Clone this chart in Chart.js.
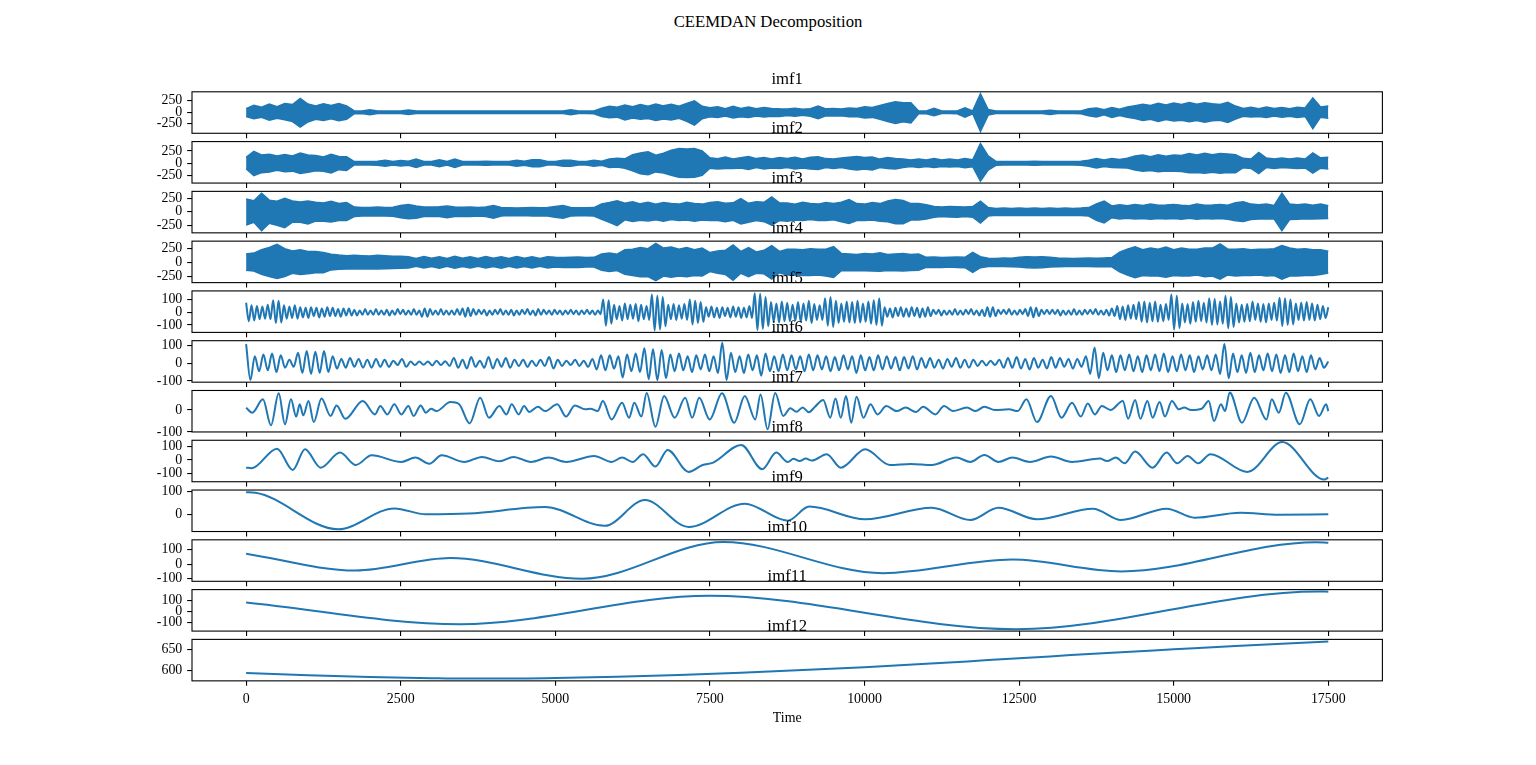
<!DOCTYPE html>
<html>
<head>
<meta charset="utf-8">
<title>CEEMDAN Decomposition</title>
<script src="https://cdn.jsdelivr.net/npm/chart.js@4.4.1/dist/chart.umd.min.js"></script>
<style>
  html, body { margin: 0; padding: 0; background: #fff; }
  #fig { position: relative; width: 1536px; height: 765px; overflow: hidden; background: #fff; }
  #fig canvas { position: absolute; left: 0; }
  #suptitle {
    position: absolute; left: 0; top: 14px; width: 1536px; text-align: center;
    font-family: "Liberation Serif", "Times New Roman", serif; font-size: 16.7px; line-height: 1; color: #000;
  }
</style>
</head>
<body>
<div id="fig">
  <div id="suptitle">CEEMDAN Decomposition</div>
</div>
<script>
// ---- data ----
const xTicks = [0, 2500, 5000, 7500, 10000, 12500, 15000, 17500];

// imf1..imf4 are too dense to resolve: upper / lower envelope, one value every 125 samples
const bandStep = 125;
const imf1Hi = [80, 150, 110, 180, 120, 190, 170, 300, 180, 140, 185, 150, 190, 140,
  30, 28, 55, 28, 28, 28, 28, 50,
  28, 26, 28, 27, 28, 26, 28, 27, 28, 26, 28, 27, 28, 26, 28, 27, 28, 26, 28, 27,
  55, 28, 28, 30,
  90, 130, 110, 160, 120, 170, 130, 180, 140, 175, 130, 190, 250, 130, 100, 120, 80, 130, 85, 115, 75, 105, 85, 75,
  70, 90, 65, 80, 135, 75, 85, 70, 95, 85, 120, 105, 150, 190,
  230, 210, 210, 30, 30, 85, 28, 28, 30, 100, 30, 404, 60,
  28, 27, 28, 26, 28, 27, 28, 45, 28, 27, 28,
  30, 80, 95, 55, 105, 65, 115, 145, 175, 150, 195, 160, 200, 170, 215, 175, 205, 185, 170, 215,
  135, 85, 110, 80, 115, 85, 105, 80, 110, 95, 310, 115, 135];
const imf1Lo = [-90, -140, -110, -170, -130, -160, -200, -320, -210, -150, -175, -140, -185, -150,
  -30, -28, -55, -28, -27, -28, -28, -50,
  -27, -28, -26, -28, -27, -28, -26, -28, -27, -28, -26, -28, -27, -28, -26, -28, -27, -28, -26, -28,
  -55, -28, -27, -30,
  -90, -120, -105, -165, -125, -150, -135, -175, -145, -165, -130, -195, -280, -140, -95, -110, -80, -125, -95, -110, -80, -100, -85, -90,
  -70, -85, -65, -85, -140, -75, -80, -75, -95, -90, -125, -110, -150, -200,
  -240, -205, -230, -30, -30, -75, -28, -28, -30, -105, -30, -414, -60,
  -28, -27, -28, -26, -28, -27, -28, -45, -28, -27, -28,
  -30, -75, -100, -55, -110, -70, -105, -135, -180, -150, -200, -155, -190, -175, -205, -180, -215, -185, -175, -220,
  -145, -85, -100, -90, -110, -80, -105, -85, -110, -90, -355, -105, -130];

const imf2Hi = [120, 240, 170, 185, 150, 180, 150, 210, 170, 160, 130, 185, 140, 135,
  35, 35, 35, 40, 60, 35, 55, 40, 85, 35, 35, 70, 35, 85, 35, 35, 35, 40, 35, 35, 35, 60, 40, 70, 70, 35, 35, 60, 60, 35, 35, 60, 40,
  85, 100, 90, 175, 210, 235, 165, 205, 265, 300, 290, 300, 250,
  110, 90, 125, 85, 115, 135, 95, 115, 85, 115, 95, 120, 85, 125, 135, 95, 85, 105, 125, 140, 120, 130, 85, 115, 95, 85, 65, 85, 65, 95, 65, 85, 65, 95, 70,
  400, 150,
  40, 35, 35, 35, 35, 40, 35, 35, 35, 35, 35, 40,
  60, 95, 65, 95, 75, 105, 150, 170, 135, 175, 145, 170, 160, 200, 170, 205, 175, 200, 190, 175, 100, 85, 220, 105, 85, 105, 85, 105, 85, 210, 110, 125];
const imf2Lo = [-110, -250, -190, -175, -140, -170, -160, -205, -180, -150, -160, -195, -130, -145,
  -35, -34, -36, -40, -60, -35, -55, -40, -85, -35, -34, -70, -35, -85, -35, -34, -36, -40, -35, -34, -36, -60, -40, -70, -70, -35, -34, -60, -60, -35, -34, -60, -40,
  -85, -75, -100, -155, -215, -235, -175, -200, -245, -285, -290, -285, -245,
  -100, -115, -105, -105, -95, -125, -85, -115, -95, -105, -85, -115, -95, -115, -125, -85, -105, -85, -115, -135, -115, -135, -85, -105, -115, -85, -65, -85, -65, -85, -65, -75, -65, -90, -70,
  -360, -140,
  -40, -35, -34, -36, -35, -40, -35, -34, -36, -35, -35, -40,
  -60, -95, -65, -85, -90, -95, -135, -160, -145, -170, -155, -160, -165, -190, -185, -200, -180, -205, -185, -190, -90, -105, -210, -85, -105, -85, -95, -105, -95, -200, -100, -115];

const imf3Hi = [240, 210, 350, 220, 200, 255, 205, 185, 205, 180, 165, 200, 155, 175,
  90, 80, 80, 90, 80, 85, 120, 140, 110, 90, 90, 95, 110, 90, 85, 90, 80, 90, 120, 80, 75, 70, 75, 80, 75, 80, 100, 120, 80, 75, 75, 80,
  150, 175, 210, 160, 190, 150, 180, 145, 175, 155, 145, 180, 155, 145, 175, 190, 160, 170, 250, 160, 190, 180, 280, 170, 165, 145, 180, 155, 145, 175, 155, 180, 230, 155, 145, 175, 155, 205, 230, 215, 155, 155, 135,
  100, 90, 100, 95, 90, 100, 200, 80,
  65, 70, 65, 70, 65, 70, 65, 70, 65, 70, 65, 70, 80, 150, 200, 110,
  135, 115, 140, 120, 145, 125, 130, 140, 125, 115, 145, 125, 130, 140, 125, 170, 190, 145, 135, 145, 120, 350, 145, 135, 145, 125, 145, 115];
const imf3Lo = [-250, -195, -355, -215, -255, -300, -195, -195, -230, -175, -175, -190, -165, -165,
  -90, -80, -80, -80, -80, -85, -110, -130, -120, -90, -85, -90, -110, -90, -85, -90, -80, -90, -120, -80, -70, -75, -70, -80, -75, -80, -100, -120, -80, -75, -75, -80,
  -140, -195, -260, -150, -180, -160, -170, -150, -175, -145, -165, -155, -175, -155, -165, -165, -185, -160, -230, -195, -165, -185, -250, -165, -175, -155, -165, -145, -165, -165, -150, -185, -220, -165, -165, -155, -175, -185, -225, -225, -155, -155, -135,
  -100, -90, -95, -100, -90, -100, -210, -80,
  -65, -70, -65, -70, -65, -70, -65, -70, -65, -70, -65, -70, -80, -160, -210, -110,
  -135, -120, -135, -125, -140, -125, -135, -125, -140, -120, -140, -125, -135, -125, -140, -170, -180, -145, -135, -130, -135, -355, -145, -140, -130, -135, -130, -125];

const imf4Hi = [150, 165, 225, 265, 320, 245, 205, 225, 195, 195, 175, 145,
  130, 120, 125, 120, 115, 125, 120, 110, 110,
  100, 70, 105, 75, 100, 70, 110, 75, 100, 70, 105, 75, 100, 70, 105, 75, 100, 70, 100,
  90, 85, 90, 95, 85, 90,
  150, 165, 145, 225, 235, 265, 245, 340, 255, 275, 235, 265, 225, 255, 175, 205, 215,
  310, 195, 265, 185, 215, 300, 195, 235, 235, 225, 245, 235, 235, 280, 160,
  150, 140, 160, 150, 170, 140, 150, 160, 140, 150,
  90, 95, 85, 90, 95, 90, 180, 100,
  75, 70, 80, 75, 90, 100, 95, 100, 90, 80, 75, 70, 75, 80, 75, 80, 85,
  180, 235, 280, 225, 255, 235, 275, 225, 255, 235, 235, 255, 255, 330, 235, 235, 245, 225, 235, 235, 245, 300, 255, 235, 245, 225, 225, 200];
const imf4Lo = [-140, -155, -215, -255, -290, -255, -195, -215, -205, -185, -185, -135,
  -125, -120, -120, -115, -120, -120, -115, -110, -105,
  -100, -70, -100, -75, -105, -70, -105, -75, -100, -70, -100, -75, -105, -70, -100, -75, -100, -70, -100,
  -85, -90, -90, -90, -85, -85,
  -140, -165, -145, -215, -235, -255, -255, -325, -245, -265, -245, -255, -235, -245, -165, -195, -215,
  -320, -195, -255, -195, -205, -300, -185, -225, -225, -235, -235, -225, -245, -270, -150,
  -145, -150, -150, -155, -160, -145, -150, -155, -145, -140,
  -90, -90, -90, -85, -90, -95, -180, -95,
  -75, -75, -75, -80, -85, -95, -100, -95, -85, -80, -75, -75, -75, -75, -80, -80, -80,
  -170, -225, -276, -235, -245, -245, -265, -235, -245, -245, -225, -255, -245, -300, -225, -245, -235, -235, -225, -245, -235, -300, -245, -245, -235, -235, -215, -190];

// imf5, imf6: successive turning points, evenly spaced
const imf5Step = 43.75;
const imf5 = [75, -70, 55, -65, 50, -55,
  45, -50, 60, -55, 95, -85, 90, -80, 55, -50, 45, -45, 55, -50, 40,
  -40, 35, -45, 40, -30, 35, -40, 30, -35, 40, -30, 35, -30, 25, -35, 30, -25, 30, -25,
  20, -25, 15, -20, 25, -20, 15, -20, 25, -20, 15, -20, 20, -25, 15, -20, 25, -15, 20, -20, 15, -20, 25, -20, 15, -35, 30, -35, 25, -20, 15, -20, 25, -20, 15, -20,
  15, -20, 25, -20, 30, -35, 35, -30, 25, -20, 20, -15, 20, -25, 15, -20, 20, -15, 25, -20,
  15, -20, 20, -25, 15, -20, 20, -15, 25, -20, 15, -25, 25, -20, 20, -15, 15, -20, 20, -15,
  15, -20, 15, -15, 20, -15, 15, -20, 15, -15, 20, -15, 15, -20, 15, -15,
  100, -105, 95, -90,
  60, -55, 50, -65, 70, -55, 60, -50, 65, -70, 60, -55, 50, -60,
  140, -143, 130, -135, 120, -110,
  60, -55, 65, -60, 55, -50, 65, -60,
  100, -95, 90, -85, 80, -75,
  40, -35, 45, -40, 35, -45, 40, -30, 35, -40, 45, -35, 40, -45, 35, -40, 50, -45,
  150, -140, 145, -130, 120, -110,
  80, -75, 70, -80, 85, -70, 75, -70,
  60, -65, 80, -75, 70, -65, 90, -85, 65, -60, 55, -60, 110, -105, 120, -115, 90, -85, 70, -75, 85, -80,
  80, -85, 90, -80, 70, -75, 85, -90, 95, -100, 110, -105,
  40, -35, 30, -40, 35, -30, 40, -35, 30, -35, 40, -30, 35, -40, 30, -35, 40, -30,
  20, -15, 20, -25, 15, -20, 15, -20, 25, -20, 15, -20, 20, -15, 25, -20, 15, -25, 20, -30,
  40, -35, 40, -30,
  20, -15, 20, -15, 25, -20, 15, -20, 20, -15, 25, -30,
  40, -40, 35, -30,
  20, -15, 20, -15, 20, -15, 20, -25, 15, -20, 15, -20, 25, -20, 15, -20, 20, -15, 20, -15, 25, -20, 15, -20, 20, -25, 30, -30,
  50, -55, 45, -60, 55, -50, 60, -55,
  80, -75, 85, -80, 75, -70, 85, -75,
  60, -70, 65, -60,
  140, -135, 130, -125,
  70, -80, 65, -90, 80, -75, 90, -70, 75, -80,
  110, -100, 105, -95, 85, -90,
  130, -125, 120, -115,
  70, -80, 60, -75, 65, -70, 85, -60, 70, -75, 65, -80, 70, -60, 75, -65,
  115, -110, 110, -100, 100, -95,
  70, -60, 75, -65, 80, -60, 70, -65, 60, -55, 50, -45, 40];

const imf6Step = 70;
const imf6 = [108, -95, 40, -45, 50, -40, 55, -50, 45, -25,
  20, -20, 60, -55, 70, -60, 65, -55, 70, -50,
  40, -30, 25, -25, 30, -20, 25, -25, 20, -25,
  25, -20, 20, -20, 15, -10, 25, -20, 10, -10,
  10, -8, 10, -12, 15, -10, 12, -15, 30, -25,
  20, -30, 35, -20, 15, -25, 35, -30, 25, -20,
  30, -25, 20, -15, 20, -20, 15, -15, 20, -15,
  35, -30, 20, -15, 15, -10, 20, -15, 15, -20,
  25, -35, 45, -40, 45, -30, 40, -80, 50, -45,
  55, -50, 85, -90, 80, -95, 75, -85, 50, -45,
  55, -40, 40, -50, 45, -35, 50, -45, 40, -55,
  117, -95, 60, -50, 40, -55, 50, -40, 45, -70,
  55, -45, 40, -45, 50, -40, 45, -35, 40, -45,
  50, -40, 45, -35, 40, -45, 35, -40, 45, -35,
  40, -55, 45, -40, 35, -40, 45, -35, 40, -30,
  35, -40, 35, -30, 40, -35, 30, -25, 30, -25,
  20, -30, 25, -20, 30, -25, 20, -25, 20, -15,
  15, -12, 15, -10, 20, -25, 30, -25, 35, -30,
  25, -35, 30, -25, 20, -30, 35, -25, 30, -20,
  25, -30, 25, -20, 40, -60, 90, -85, 60, -40,
  45, -50, 45, -40, 50, -45, 40, -50, 45, -40,
  50, -45, 55, -50, 40, -45, 50, -40, 45, -50,
  40, -35, 45, -40, 50, -60, 110, -85, 55, -50,
  45, -55, 60, -50, 45, -40, 55, -45, 50, -55,
  45, -50, 55, -45, 40, -50, 45, -35, 30, -25,
  10];

// imf7..imf12: turning points (time, value)
const imf7T = [0, 100, 272, 402, 527, 629, 725, 810, 867, 924, 1009, 1094, 1219, 1366, 1463, 1604, 1887, 2085, 2170, 2284,
  2397, 2510, 2624, 2709, 2822, 2907, 2992, 3077, 3304, 3445, 3615, 3785, 3927, 4097, 4210, 4295, 4409, 4494, 4579, 4720,
  4834, 5032, 5174, 5315, 5485, 5570, 5684, 5769, 5910, 6080, 6193, 6278, 6392, 6477, 6619, 6760, 6930, 7100, 7214, 7327,
  7497, 7695, 7894, 8064, 8234, 8319, 8432, 8556, 8687,
  8800, 8900, 9000, 9100, 9200, 9332, 9446, 9531, 9616, 9701, 9786, 9871, 9984, 10097, 10211, 10352, 10522, 10664, 10834, 10947,
  11146, 11287, 11429, 11656, 11797, 11939, 12109, 12336, 12478, 12619, 12789, 13016, 13186, 13356, 13498, 13611, 13724, 13838, 13979, 14178,
  14263, 14376, 14461, 14574, 14659, 14772, 14858, 14971, 15084, 15169, 15283, 15453, 15566, 15651, 15764, 15830, 15906, 16104, 16302, 16500,
  16586, 16699, 16813, 17039, 17209, 17351, 17465, 17500];
const imf7V = [10, -12, 49, -70, 76, -65, 49, -30, 26, -24, 41, -55, 52, -27, 21, -40, 41, -20, 18, -20,
  26, -20, 18, -27, 21, -12, 6, -5, 36, 26, -61, 56, -35, 18, -20, 26, -20, 18, -9, 15,
  -5, 26, -30, 21, 3, 6, -5, 41, -43, 33, -35, 33, -30, 78, -76, 64, -35, 56, -35, 56,
  -43, 76, -58, 64, -43, 71, -88, 78, -27,
  8, -8, 12, -10, 15, 46, -35, 52, -35, 64, -58, 61, -35, 26, -20, 18, -5, 11, -9, 15,
  -20, 18, -5, 11, -5, 15, 0, 3, -5, 49, -55, 64, -35, 33, -30, 30, -20, 18, 0, 41,
  -40, 46, -40, 41, -35, 36, -30, 41, 3, 11, 0, 6, 41, -50, 26, -5, 80, -58, 56, -43,
  49, -12, 79, -65, 49, -27, 26, -5];

const imf8T = [0, 90, 500, 754, 952, 1207, 1519, 1774, 2029, 2510, 2737, 2964, 3162, 3530, 3814, 4097, 4324, 4607, 4890, 5174,
  5627, 5910, 6080, 6250, 6420, 6618, 6817, 7157, 7383, 7553, 8006, 8346, 8573, 8760,
  8850, 8950, 9050, 9150, 9389, 9616, 10012, 10409, 10750, 11089, 11486, 11712, 11939, 12166, 12392, 12676, 13016, 13356, 13809, 13922, 14064,
  14206, 14376, 14659, 14886, 15056, 15226, 15396, 15594, 16189, 16756, 17436, 17500];
const imf8V = [-58, -62, 85, -75, 80, -58, 55, -38, 35, -15, 18, -28, 35, -15, 23, -10, 23, -15, 18, -15,
  30, -15, 18, -15, 43, -50, 75, -90, -38, -20, 113, -70, 55, -15,
  8, -8, 10, -5, 43, -58, 80, -38, -30, -38, 18, -15, 38, -15, 18, -15, 25, -15, 10, -8, 18,
  -25, 63, -58, 55, -25, 30, -25, 43, -90, 134, -148, -133];

const imf9T = [0, 150, 1490, 2397, 2907, 3600, 4834, 5797, 6449, 7157, 8063, 8760, 9106, 10012, 11089, 11712, 12166, 12789,
  13696, 14149, 14886, 15339, 16076, 16700, 17500];
const imf9V = [97, 95, -66, 26, 0, 3, 32, -51, 63, -56, 47, -28, 34, -22, 29, -25, 29, -22,
  25, -25, 25, -15, 7, -2, 0];

const imf10T = [0, 1770, 3300, 5430, 7720, 10300, 12390, 14150, 17300, 17500];
const imf10V = [72, -44, 42, -101, 153, -62, 32, -50, 152, 148];

const imf11T = [0, 3460, 7500, 12450, 17350, 17500];
const imf11V = [84, -117, 146, -163, 186, 185];

const imf12T = [0, 1000, 2000, 3000, 3500, 4000, 5000, 6000, 7000, 8000, 9000, 10000, 11000, 12000, 13000, 14000, 15000, 16000, 17000, 17500];
const imf12V = [594, 588.5, 584.5, 581.5, 580.5, 580.5, 582, 585, 589, 594.5, 601, 608, 616, 625, 634, 643, 651, 659, 666, 670];

// ---- layout (matplotlib-like subplots grid) ----
const LEFT = 192, RIGHT = 1382.4;
const AX_TOP = 91.8, AX_H = 41.48, AX_PITCH = 49.78;
const TITLE_PAD = 4.25;
const TITLE_BOX = 16.7 + TITLE_PAD;
const BLUE = '#1f77b4';
const SERIF = '"Liberation Serif", "Times New Roman", serif';

const stepPts = (step, vals) => vals.map((v, i) => ({ x: i * step, y: v }));
const pairPts = (ts, vals) => vals.map((v, i) => ({ x: ts[i], y: v }));

const panels = [
  { title: 'imf1', band: [imf1Hi, imf1Lo], yMin: -455, yMax: 445, yTicks: [-250, 0, 250] },
  { title: 'imf2', band: [imf2Hi, imf2Lo], yMin: -402, yMax: 441, yTicks: [-250, 0, 250] },
  { title: 'imf3', band: [imf3Hi, imf3Lo], yMin: -395, yMax: 385, yTicks: [-250, 0, 250] },
  { title: 'imf4', band: [imf4Hi, imf4Lo], yMin: -362, yMax: 379, yTicks: [-250, 0, 250] },
  { title: 'imf5', pts: stepPts(imf5Step, imf5), yMin: -158, yMax: 168, yTicks: [-100, 0, 100] },
  { title: 'imf6', pts: stepPts(imf6Step, imf6), yMin: -107, yMax: 128, yTicks: [-100, 0, 100] },
  { title: 'imf7', pts: pairPts(imf7T, imf7V), yMin: -100, yMax: 89, yTicks: [-100, 0] },
  { title: 'imf8', pts: pairPts(imf8T, imf8V), yMin: -164, yMax: 148, yTicks: [-100, 0, 100] },
  { title: 'imf9', pts: pairPts(imf9T, imf9V), yMin: -76, yMax: 107, yTicks: [0, 100] },
  { title: 'imf10', pts: pairPts(imf10T, imf10V), yMin: -118, yMax: 168, yTicks: [-100, 0, 100] },
  { title: 'imf11', pts: pairPts(imf11T, imf11V), yMin: -181, yMax: 204, yTicks: [-100, 0, 100] },
  { title: 'imf12', pts: pairPts(imf12T, imf12V), yMin: 575, yMax: 675, yTicks: [600, 650] }
];

// black box around every axes
const frame = {
  id: 'frame',
  afterDatasetsDraw(chart) {
    const { ctx, chartArea: a } = chart;
    ctx.save();
    ctx.strokeStyle = '#000';
    ctx.lineWidth = 1.1;
    ctx.strokeRect(a.left, a.top, a.right - a.left, a.bottom - a.top);
    ctx.restore();
  }
};

const tickFont = { family: SERIF, size: 13.9 };
const gridOpts = { drawOnChartArea: false, drawTicks: true, tickLength: 4.86, color: '#000', lineWidth: 1.1 };
const fig = document.getElementById('fig');

panels.forEach((p, k) => {
  const last = k === panels.length - 1;
  const axTop = AX_TOP + k * AX_PITCH;
  const canvasTop = Math.floor(axTop - TITLE_BOX - 2);
  const lead = axTop - canvasTop;
  const h = Math.ceil(lead + AX_H + (last ? 50 : 20));
  const xH = h - lead - AX_H;

  const canvas = document.createElement('canvas');
  canvas.width = 1536;
  canvas.height = h;
  canvas.style.top = canvasTop + 'px';
  canvas.style.width = '1536px';
  canvas.style.height = h + 'px';
  fig.appendChild(canvas);

  const datasets = p.band
    ? [
        { data: stepPts(bandStep, p.band[0]), borderColor: BLUE, backgroundColor: BLUE, borderWidth: 1.5, fill: '+1', pointRadius: 0, tension: 0 },
        { data: stepPts(bandStep, p.band[1]), borderColor: BLUE, borderWidth: 1.5, fill: false, pointRadius: 0, tension: 0 }
      ]
    : [{ data: p.pts, borderColor: BLUE, borderWidth: 2, fill: false, pointRadius: 0, cubicInterpolationMode: 'monotone' }];

  new Chart(canvas, {
    type: 'line',
    data: { datasets },
    options: {
      responsive: false,
      animation: false,
      events: [],
      layout: { padding: { left: 0, right: 1536 - RIGHT, top: 0, bottom: 0 } },
      plugins: {
        legend: { display: false },
        tooltip: { enabled: false },
        title: {
          display: true, text: p.title, fullSize: false, color: '#000',
          font: { family: SERIF, size: 16.7, weight: 'normal', lineHeight: 1 },
          padding: { top: lead - TITLE_BOX, bottom: TITLE_PAD }
        }
      },
      scales: {
        x: {
          type: 'linear', min: -875, max: 18375,
          afterBuildTicks: s => { s.ticks = xTicks.map(v => ({ value: v })); },
          afterFit: s => { s.height = xH; },
          grid: gridOpts,
          border: { display: false },
          ticks: { display: last, autoSkip: false, maxRotation: 0, padding: 4.86, color: '#000', font: tickFont, callback: v => String(v) },
          title: { display: last, text: 'Time', color: '#000', font: tickFont, padding: { top: 4, bottom: 4 } }
        },
        y: {
          type: 'linear', min: p.yMin, max: p.yMax,
          afterBuildTicks: s => { s.ticks = p.yTicks.map(v => ({ value: v })); },
          afterFit: s => { s.width = LEFT; },
          grid: gridOpts,
          border: { display: false },
          ticks: { autoSkip: false, padding: 4.86, color: '#000', font: tickFont, callback: v => String(v) }
        }
      }
    },
    plugins: [frame]
  });
});
</script>
</body>
</html>
